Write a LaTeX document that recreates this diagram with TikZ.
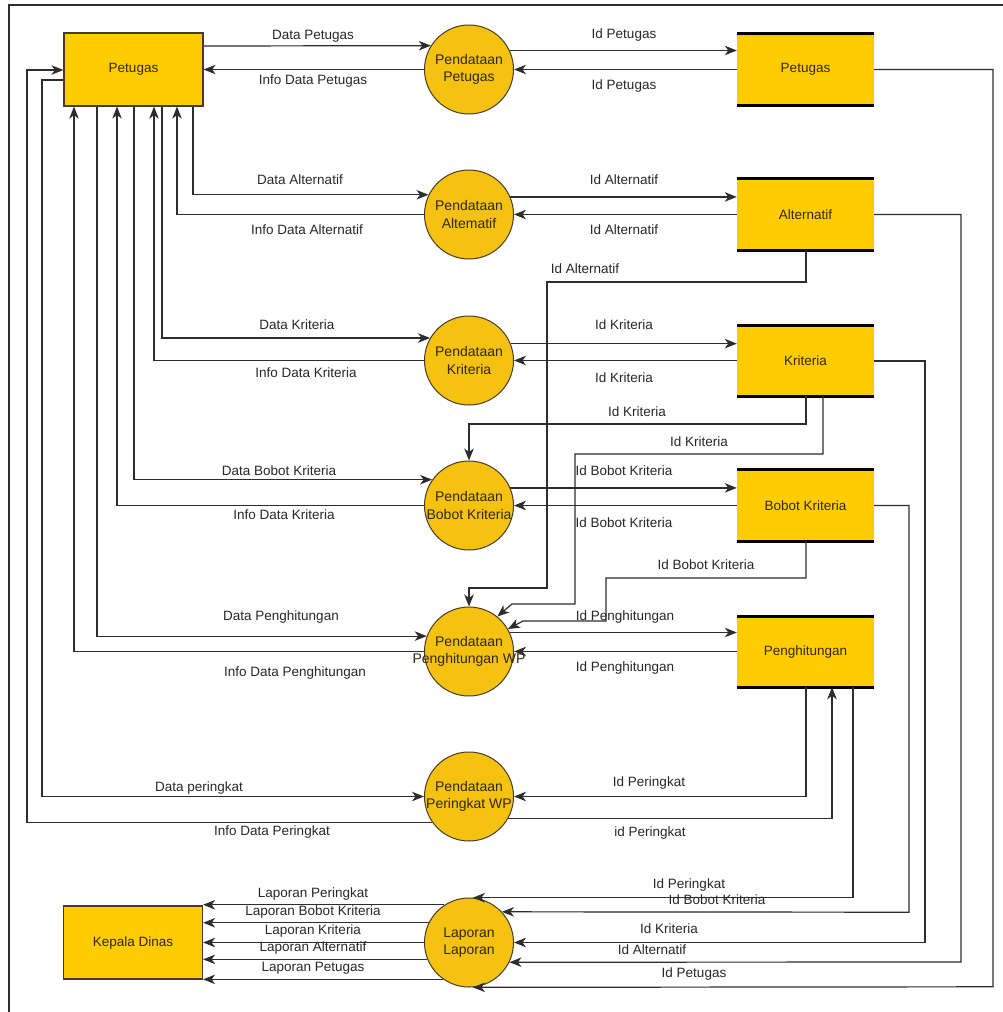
\documentclass[tikz,border=0pt]{standalone}
\usepackage{fontspec}
\setmainfont{Liberation Sans}
\usetikzlibrary{arrows.meta}
\definecolor{yel}{RGB}{255,204,0}
\definecolor{orn}{RGB}{245,194,17}
\definecolor{lc}{RGB}{45,45,45}
\definecolor{ec}{RGB}{70,60,40}
\definecolor{tc}{RGB}{40,40,40}
\definecolor{ntc}{RGB}{50,40,10}
\newcommand\lblfont{\fontsize{13.5}{17}\selectfont}
\newcommand\prcfont{\fontsize{14}{17.5}\selectfont}
\newcommand\zb[1]{\makebox[0pt]{#1}}
\tikzset{
  ln/.style={draw=lc, line width=1.2pt},
  arr/.style={ln, -{Stealth[length=12pt,width=9.5pt,inset=3.5pt]}},
  ent/.style={rectangle, draw=ec, fill=yel, line width=1.2pt, minimum width=139pt, minimum height=73pt, inner sep=0pt, font=\lblfont, text=ntc},
  proc/.style={circle, draw=ec, fill=orn, line width=1pt, minimum size=89pt, inner sep=0pt, align=center, font=\prcfont, text=ntc},
  store/.style={rectangle, fill=yel, minimum width=137pt, minimum height=71pt, inner sep=0pt, font=\lblfont, text=ntc},
  lbl/.style={text=tc, font=\lblfont, inner sep=0pt, text height=1.5ex, text depth=.25ex},
  stline/.style={draw=black, line width=3pt}
}
\begin{document}
\begin{tikzpicture}[x=1pt,y=-1pt]
\useasboundingbox (0,0) rectangle (1003,1012);
\fill[white] (0,0) rectangle (1003,1012);
\draw[lc, line width=1.5pt] (9,1012) -- (9,5) -- (1003,5);

% external entities
\node[ent] (Pet) at (133.5,69.5) {Petugas};
\node[ent] (Kep) at (133,942.5) {Kepala Dinas};

% processes
\node[proc] (P1) at (469,69.5) {\zb{Pendataan}\\\zb{Petugas}};
\node[proc] (P2) at (469,214.5) {\zb{Pendataan}\\\zb{Altematif}};
\node[proc] (P3) at (469,360.5) {\zb{Pendataan}\\\zb{Kriteria}};
\node[proc] (P4) at (469,505.5) {\zb{Pendataan}\\\zb{Bobot Kriteria}};
\node[proc] (P5) at (469,651.5) {\zb{Pendataan}\\\zb{Penghitungan WP}};
\node[proc] (P6) at (469,796.5) {\zb{Pendataan}\\\zb{Peringkat WP}};
\node[proc] (P7) at (469,942.5) {\zb{Laporan}\\\zb{Laporan}};

% data stores
\node[store] (SPet) at (805.5,69.5) {Petugas};
\node[store] (SAlt) at (805.5,214.5) {Alternatif};
\node[store, minimum height=70pt] (SKri) at (805.5,361) {Kriteria};
\node[store] (SBob) at (805.5,505.5) {Bobot Kriteria};
\node[store, minimum height=70pt] (SPen) at (805.5,652) {Penghitungan};
\foreach \s in {SPet,SAlt,SKri,SBob,SPen}{
  \draw[stline] (\s.north west) -- (\s.north east);
  \draw[stline] (\s.south west) -- (\s.south east);
}

% ---- Pendataan Petugas
\draw[arr] (Pet.east |- 0,46) -- (P1.148);
\draw[arr] (P1.180) -- (Pet.east |- P1.180);
\draw[arr] (P1.25) -- (SPet.west |- P1.25);
\draw[arr] (SPet.west) -- (P1.0);
\draw[arr] (SPet.east) -- (993,69.5) -- (993,986.8) -- (P7.275);

% ---- Pendataan Alternatif
\draw[arr] (Pet.south -| 193,0) |- (P2.154);
\draw[arr] (P2.180) -| (Pet.south -| 177,0);
\draw[arr] (P2.23) -- (SAlt.west |- P2.23);
\draw[arr] (SAlt.west) -- (P2.0);
\draw[arr] (SAlt.east) -- (961,214.5) -- (961,962) -- (P7.334);
\draw[arr] (SAlt.south -| 806,0) -- (806,282) -- (547,282) -- (547,588) -- (469,588) -- (P5.north);

% ---- Pendataan Kriteria
\draw[arr] (Pet.south -| 162,0) |- (P3.150);
\draw[arr] (P3.180) -| (Pet.south -| 154,0);
\draw[arr] (P3.22) -- (SKri.west |- P3.22);
\draw[arr] (SKri.west |- P3.0) -- (P3.0);
\draw[arr] (SKri.east) -- (925,361) -- (925,942.5) -- (P7.0);
\draw[arr] (SKri.south -| 806,0) -- (806,424) -- (469,424) -- (P4.north);
\draw[arr] (SKri.south -| 823,0) -- (823,454) -- (575,454) -- (575,604) -- (512,604) -- (P5.51);

% ---- Pendataan Bobot Kriteria
\draw[arr] (Pet.south -| 134,0) |- (P4.145);
\draw[arr] (P4.180) -| (Pet.south -| 117,0);
\draw[arr] (P4.23) -- (SBob.west |- P4.23);
\draw[arr] (SBob.west) -- (P4.0);
\draw[arr] (SBob.east) -- (909,505.5) -- (909,912.2) -- (P7.43);
\draw[arr] (SBob.south -| 806,0) -- (806,578) -- (606,578) -- (606,621) -- (523,621) -- (P5.30);

% ---- Pendataan Penghitungan WP
\draw[arr] (Pet.south -| 97,0) |- (P5.160);
\draw[arr] (P5.180) -| (Pet.south -| 74,0);
\draw[arr] (P5.25) -- (SPen.west |- P5.25);
\draw[arr] (SPen.west |- P5.0) -- (P5.0);

% ---- Pendataan Peringkat WP
\draw[arr] (Pet.west |- 0,80) -- (42,80) -- (42,796.5) -- (P6.180);
\draw[arr] (P6.215) -| (27,70) -- (Pet.west |- 0,70);
\draw[arr] (SPen.south -| 806,0) |- (P6.0);
\draw[arr] (P6.331) -| (SPen.south -| 832,0);
\draw[arr] (SPen.south -| 853,0) |- (P7.85);

% ---- Laporan -> Kepala Dinas
\draw[arr] (P7.123) -- (Kep.east |- P7.123);
\draw[arr] (P7.154) -- (Kep.east |- P7.154);
\draw[arr] (P7.180) -- (Kep.east |- P7.180);
\draw[arr] (P7.202) -- (Kep.east |- P7.202);
\draw[arr] (P7.235) -- (Kep.east |- P7.235);

% ---- labels left
\node[lbl] (t1) at (313,36) {Data Petugas};
\node[lbl] (t2) at (313,81) {Info Data Petugas};
\node[lbl] (t3) at (300,181) {Data Alternatif};
\node[lbl] (t4) at (307,231) {Info Data Alternatif};
\node[lbl] (t5) at (297,326) {Data Kriteria};
\node[lbl] (t6) at (306,374) {Info Data Kriteria};
\node[lbl] (t7) at (279,472) {Data Bobot Kriteria};
\node[lbl] (t8) at (284,516) {Info Data Kriteria};
\node[lbl] (t9) at (281,617) {Data Penghitungan};
\node[lbl] (t10) at (295,673) {Info Data Penghitungan};
\node[lbl] (t11) at (199,788) {Data peringkat};
\node[lbl] (t12) at (272,832) {Info Data Peringkat};
\node[lbl] (t13) at (313,894) {Laporan Peringkat};
\node[lbl] (t14) at (313,912) {Laporan Bobot Kriteria};
\node[lbl] (t15) at (313,931) {Laporan Kriteria};
\node[lbl] (t16) at (313,948) {Laporan Alternatif};
\node[lbl] (t17) at (313,968) {Laporan Petugas};

% ---- labels right
\node[lbl] (r1) at (624,35) {Id Petugas};
\node[lbl] (r2) at (624,86) {Id Petugas};
\node[lbl] (r3) at (624,181) {Id Alternatif};
\node[lbl] (r4) at (624,231) {Id Alternatif};
\node[lbl] (r5) at (585,270) {Id Alternatif};
\node[lbl] (r6) at (624,326) {Id Kriteria};
\node[lbl] (r7) at (624,379) {Id Kriteria};
\node[lbl] (r8) at (637,413) {Id Kriteria};
\node[lbl] (r9) at (699,443) {Id Kriteria};
\node[lbl] (r10) at (624,472) {Id Bobot Kriteria};
\node[lbl] (r11) at (624,524) {Id Bobot Kriteria};
\node[lbl] (r12) at (706,566) {Id Bobot Kriteria};
\node[lbl] (r13) at (625,617) {Id Penghitungan};
\node[lbl] (r14) at (625,668) {Id Penghitungan};
\node[lbl] (r15) at (649,783) {Id Peringkat};
\node[lbl] (r16) at (650,833) {id Peringkat};
\node[lbl] (r17) at (689,885) {Id Peringkat};
\node[lbl] (r18) at (717,901) {Id Bobot Kriteria};
\node[lbl] (r19) at (669,930) {Id Kriteria};
\node[lbl] (r20) at (652,951) {Id Alternatif};
\node[lbl] (r21) at (694,974) {Id Petugas};
\end{tikzpicture}
\end{document}
